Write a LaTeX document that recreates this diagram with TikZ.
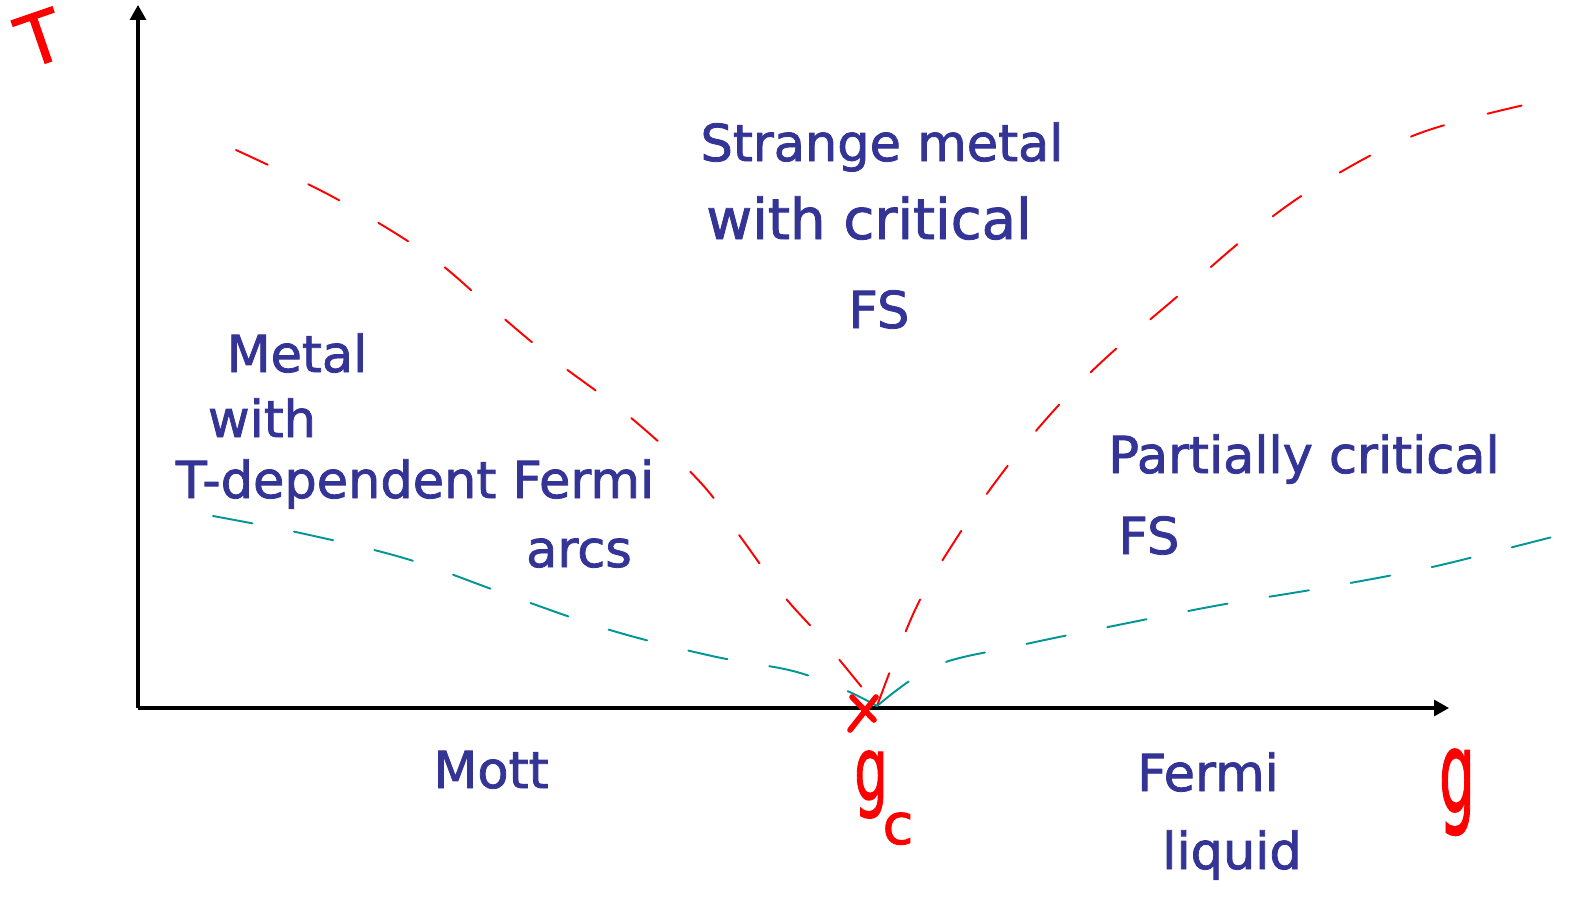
\documentclass[tikz,border=0pt]{standalone}
\usepackage{fontspec}
\setmainfont{DejaVu Sans}
\newfontfamily\handfont{DejaVu Sans}[FakeBold=1.6]
\usetikzlibrary{arrows.meta}
\definecolor{labblue}{RGB}{52,52,150}
\definecolor{hred}{RGB}{255,0,0}
\definecolor{hteal}{RGB}{0,150,150}
\tikzset{
  axis/.style={line width=1.8pt,-{Triangle[length=0.3cm,width=0.32cm]}},
  lab/.style={text=labblue,font=\handfont\fontsize{29}{34}\selectfont,anchor=base,inner sep=0pt},
  rlab/.style={text=hred,font=\handfont\fontsize{40}{44}\selectfont,anchor=base,inner sep=0pt},
  reddash/.style={hred,line width=1.1pt,dash pattern=on 0.7cm off 0.9cm,line cap=round},
  tealdash/.style={hteal,line width=1.1pt,dash pattern=on 0.8cm off 0.85cm,line cap=round},
}
\begin{document}
\begin{tikzpicture}[x=0.02cm,y=-0.02cm]
\useasboundingbox (0,0) rectangle (1594,896);
% axes
\coordinate (O) at (138,708);
\coordinate (ytip) at (138,5);
\coordinate (xtip) at (1449,708);
\draw[axis] (O) -- (ytip);
\draw[axis] (O) -- (xtip);
\coordinate (qcp) at (877,706);
% red crossover lines
\draw[reddash] plot[smooth,tension=0.6] coordinates {(236,150) (335,198) (427,254) (488,305) (549,356) (630,417) (701,483) (742,539) (783,595) (823,640) (qcp)};
\draw[reddash] plot[smooth,tension=0.6] coordinates {(qcp) (915,610) (956,539) (1006,468) (1057,407) (1108,356) (1179,295) (1250,234) (1322,183) (1423,132) (1560,97)};
% teal lines
\draw[tealdash] plot[smooth,tension=0.6] coordinates {(213,516) (305,534) (407,559) (508,595) (610,630) (712,656) (793,671) (845,690) (qcp)};
\draw[tealdash] plot[smooth,tension=0.6] coordinates {(qcp) (935,666) (1017,646) (1118,625) (1220,605) (1322,588) (1423,569) (1505,549) (1591,527)};
% critical point cross
\draw[hred,line width=3.2pt,line cap=round] (850,730) -- (876,697);
\draw[hred,line width=3.2pt,line cap=round] (852,697) -- (874,720);
% axis labels
\node[rlab,rotate=19,anchor=center] (T) at (40,38) {T};
\node[rlab,font=\handfont\fontsize{64}{70}\selectfont,xscale=0.5] (g) at (1457,812) {g};
\node[rlab,font=\handfont\fontsize{50}{56}\selectfont,xscale=0.6] (gc) at (871,800) {g};
\node[rlab,font=\handfont\fontsize{32}{36}\selectfont] (gcsub) at (898,844) {c};
% region labels
\node[lab] (sm1) at (882,161) {Strange metal};
\node[lab,font=\handfont\fontsize{32}{36}\selectfont] (sm2) at (869,239) {with critical};
\node[lab] (sm3) at (879,328) {FS};
\node[lab] (m1) at (297,372) {Metal};
\node[lab] (m2) at (262,437) {with};
\node[lab] (m3) at (415,498) {T-dependent Fermi};
\node[lab] (m4) at (579,567) {arcs};
\node[lab] (p1) at (1304,473) {Partially critical};
\node[lab] (p2) at (1149,554) {FS};
\node[lab] (mott) at (491,788) {Mott};
\node[lab] (fl1) at (1208,791) {Fermi};
\node[lab] (fl2) at (1232,869) {liquid};
\end{tikzpicture}
\end{document}
